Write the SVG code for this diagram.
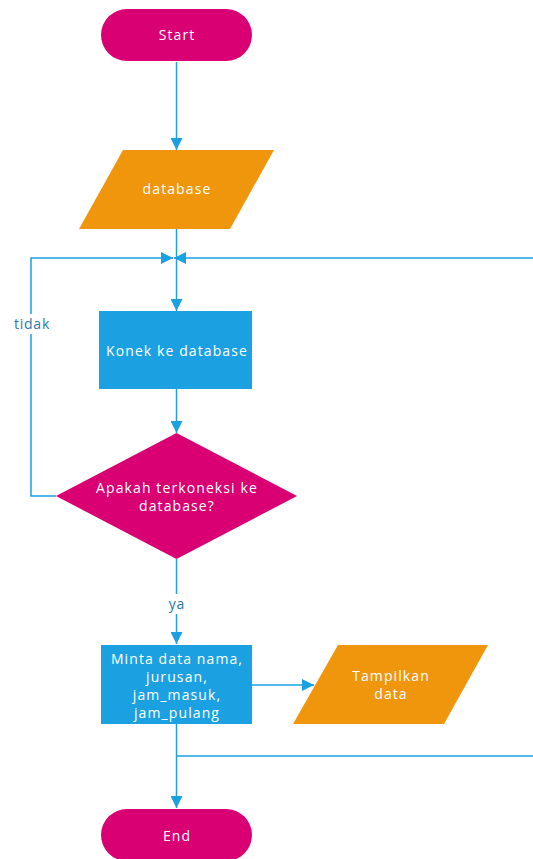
<svg xmlns="http://www.w3.org/2000/svg" width="533" height="859" viewBox="0 0 533 859">
<defs>
<marker id="arr" viewBox="0 0 12 12" refX="12" refY="6" markerWidth="12" markerHeight="12" markerUnits="userSpaceOnUse" orient="auto">
<path d="M0,0 L12,6 L0,12 Z" fill="#1BA1E2"/>
</marker>
<style>
.ln{fill:none;stroke:#1BA1E2;stroke-width:1.5}
.t{font-family:"Open Sans","Noto Sans",sans-serif;font-size:14px;letter-spacing:1.1px;fill:#ffffff;text-anchor:middle}
.lb{font-family:"Open Sans","Noto Sans",sans-serif;font-size:14px;letter-spacing:0.8px;fill:#2A78AE;text-anchor:middle}
.mg{fill:#D80073}
.or{fill:#F0960C}
.bl{fill:#1BA1E2}
</style>
</defs>
<g id="connectors">
<path class="ln" d="M176.5,62 V150" marker-end="url(#arr)"/>
<path class="ln" d="M176.5,229 V311" marker-end="url(#arr)"/>
<path class="ln" d="M176.5,389 V433" marker-end="url(#arr)"/>
<path class="ln" d="M56,496 H31 V258 H173" marker-end="url(#arr)"/>
<path class="ln" d="M176.5,756 H536 V258 H174" marker-end="url(#arr)" />
<path class="ln" d="M176.5,559 V644" marker-end="url(#arr)"/>
<path class="ln" d="M252,685 H314" marker-end="url(#arr)"/>
<path class="ln" d="M176.5,724 V808" marker-end="url(#arr)"/>
<rect x="11" y="314" width="42" height="20" fill="#ffffff"/>
<text class="lb" x="32" y="329">tidak</text>
<rect x="164" y="594" width="25" height="20" fill="#ffffff"/>
<text class="lb" x="177" y="609">ya</text>
</g>
<g id="start">
<rect class="mg" x="101" y="9" width="151" height="52" rx="26"/>
<text class="t" x="177" y="40">Start</text>
</g>
<g id="database">
<path class="or" d="M123,150 H274 L230,229 H79 Z"/>
<text class="t" x="177" y="194">database</text>
</g>
<g id="konek">
<rect class="bl" x="99" y="311" width="153" height="78"/>
<text class="t" x="177" y="356">Konek ke database</text>
</g>
<g id="decision">
<path class="mg" d="M176.5,433 L297,496 L176.5,559 L56,496 Z"/>
<text class="t" x="177" y="493">Apakah terkoneksi ke</text>
<text class="t" x="177" y="511">database?</text>
</g>
<g id="minta">
<rect class="bl" x="101" y="645" width="151" height="79"/>
<text class="t" x="177" y="664">Minta data nama,</text>
<text class="t" x="177" y="682">jurusan,</text>
<text class="t" x="177" y="700">jam_masuk,</text>
<text class="t" x="177" y="718">jam_pulang</text>
</g>
<g id="tampilkan">
<path class="or" d="M338,645 H488 L444,724 H293 Z"/>
<text class="t" x="391" y="681">Tampilkan</text>
<text class="t" x="391" y="699">data</text>
</g>
<g id="end">
<rect class="mg" x="101" y="809" width="151" height="52" rx="26"/>
<text class="t" x="177" y="841">End</text>
</g>
</svg>
